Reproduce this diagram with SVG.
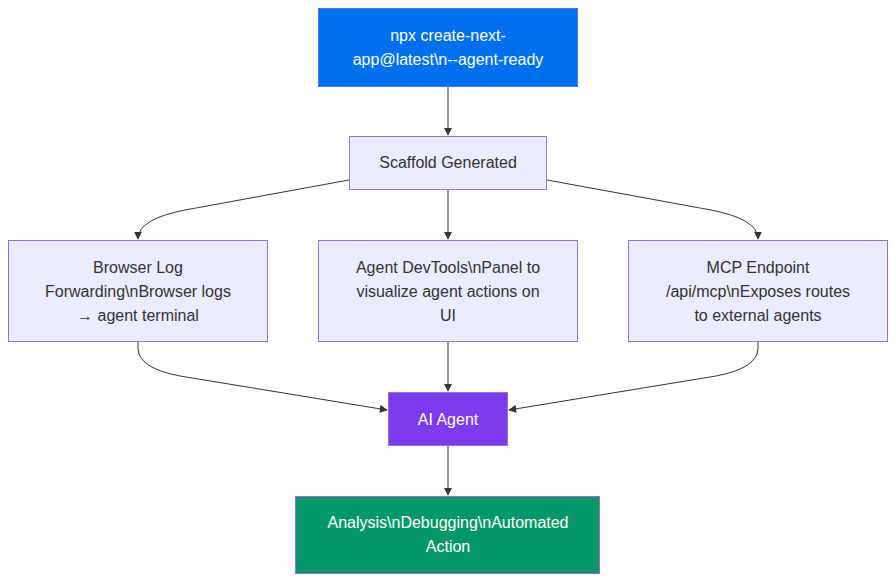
<svg xmlns="http://www.w3.org/2000/svg" width="896" height="582" viewBox="0 0 896 582">
<defs>
<marker id="arr" viewBox="0 0 10 10" refX="9" refY="5" markerWidth="8" markerHeight="8" markerUnits="userSpaceOnUse" orient="auto">
<path d="M0,0 L10,5 L0,10 z" fill="#333"/>
</marker>
</defs>
<style>
.node rect{stroke-width:1}
.lt rect{fill:#ECECFF;stroke:#9370DB}
text{font-family:"Liberation Sans",Arial,sans-serif;font-size:16px;text-anchor:middle;dominant-baseline:central}
.lt text{fill:#333}
.dk text{fill:#fff}
.edges path{fill:none;stroke:#333;stroke-width:1;marker-end:url(#arr)}
</style>
<rect width="896" height="582" fill="#fff"/>
<g class="edges">
<path d="M448,86 L448,135"/>
<path d="M349,180 L185,210 Q138,219 138,239"/>
<path d="M448,189 L448,239"/>
<path d="M547,180 L711,210 Q758,219 758,239"/>
<path d="M138,342 L138,348 Q138,368 180,376 L387,410"/>
<path d="M448,342 L448,391"/>
<path d="M758,342 L758,348 Q758,368 716,376 L509,410"/>
<path d="M448,446 L448,495"/>
</g>
<g id="n1" class="node dk">
<rect x="318.5" y="8.5" width="259" height="78" fill="#0070F3" stroke="#5a6fd8"/>
<text x="448" y="35">npx create-next-</text>
<text x="448" y="59">app@latest\n--agent-ready</text>
</g>
<g id="n2" class="node lt">
<rect x="349.5" y="136.5" width="197" height="53"/>
<text x="448" y="162">Scaffold Generated</text>
</g>
<g id="n3" class="node lt">
<rect x="8.5" y="240.5" width="259" height="101"/>
<text x="138" y="267">Browser Log</text>
<text x="138" y="291">Forwarding\nBrowser logs</text>
<text x="138" y="315">→ agent terminal</text>
</g>
<g id="n4" class="node lt">
<rect x="318.5" y="240.5" width="259" height="101"/>
<text x="448" y="267">Agent DevTools\nPanel to</text>
<text x="448" y="291">visualize agent actions on</text>
<text x="448" y="315">UI</text>
</g>
<g id="n5" class="node lt">
<rect x="628.5" y="240.5" width="259" height="101"/>
<text x="758" y="267">MCP Endpoint</text>
<text x="758" y="291">/api/mcp\nExposes routes</text>
<text x="758" y="315">to external agents</text>
</g>
<g id="n6" class="node dk">
<rect x="388.5" y="392.5" width="119" height="53" fill="#7C3AED" stroke="#9370DB"/>
<text x="448" y="419">AI Agent</text>
</g>
<g id="n7" class="node dk">
<rect x="295.5" y="496.5" width="304" height="77" fill="#059669" stroke="#9370DB"/>
<text x="448" y="522">Analysis\nDebugging\nAutomated</text>
<text x="448" y="546">Action</text>
</g>
</svg>
